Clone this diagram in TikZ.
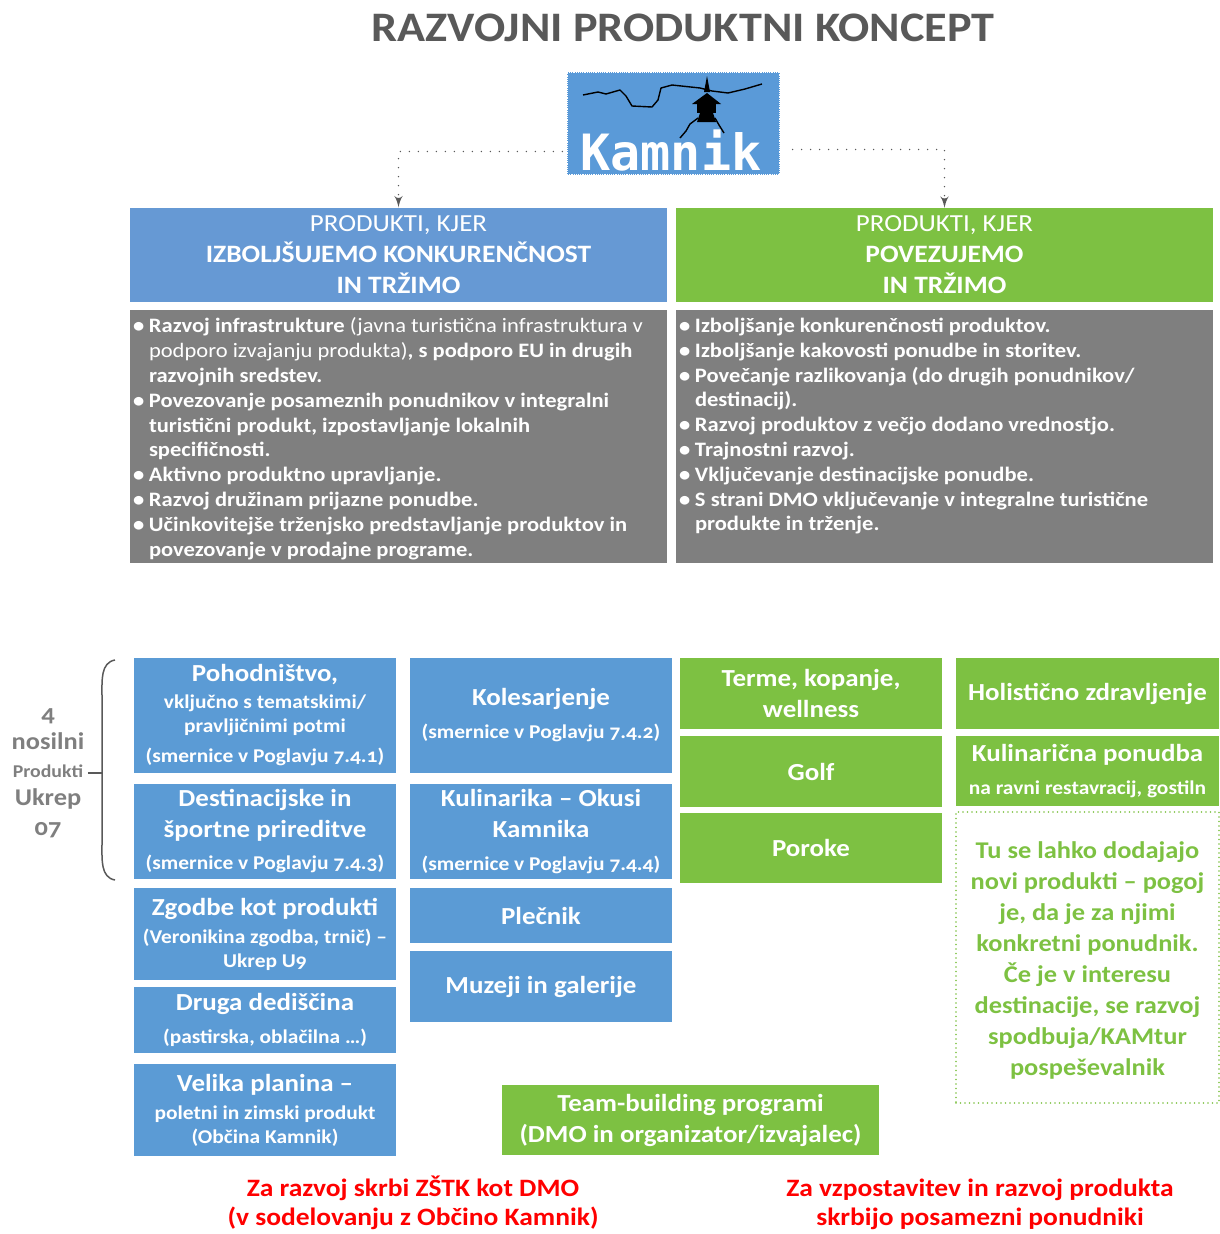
\documentclass[tikz,border=0pt]{standalone}
\usepackage{fontspec}
\setmainfont{Carlito}[Numbers=OldStyle, FakeStretch=1.1]
\newfontfamily\logofont{DejaVu Sans Mono}
\usepackage{tikz}
\usetikzlibrary{arrows}
\usetikzlibrary{decorations.markings}
\tikzset{tip/.style = {decoration={markings,
                                   mark=at position 1 with {\arrow[scale=1.5]{latex'}}},
                       postaction={decorate}}}
\tikzset{prod/.style = {fill=mblue, text=white, align=center, inner sep=0pt,
                        minimum width=262pt, minimum height=#1,
                        font=\bfseries\fontsize{19.5}{24}\selectfont}}
\tikzset{grn/.style = {prod=#1, fill=mgreen}}
\tikzset{hdr/.style = {text=white, align=center, inner sep=0pt, minimum width=537pt,
                       minimum height=94pt, font=\bfseries\fontsize{25}{31}\selectfont}}
\tikzset{gbox/.style = {fill=mgray, inner sep=0pt, minimum width=537pt, minimum height=253pt}}
\tikzset{gtxt/.style = {text=white, align=left, inner sep=0pt,
                        font=\bfseries\fontsize{20.5}{24.8}\selectfont}}
\tikzset{dots/.style = {tgray, line width=1.6pt, line cap=round, dash pattern=on 0pt off 9pt}}
\tikzset{note/.style = {text=red, align=center, font=\bfseries\fontsize{25}{29}\selectfont}}
\definecolor{mblue}{HTML}{5B9BD5}
\definecolor{hblue}{HTML}{6699D4}
\definecolor{lblue}{HTML}{5A9AD8}
\definecolor{mgreen}{HTML}{7DC142}
\definecolor{mgray}{HTML}{7F7F7F}
\definecolor{tgray}{HTML}{595959}
\newcommand\pname[1]{{\fontsize{24.5}{31}\selectfont #1}}
\newcommand\bl{\makebox[16pt][l]{\textbullet}}
\newcommand\ind{\hspace*{16pt}}

\begin{document}
\begin{tikzpicture}[x=1pt, y=-1pt]
      \useasboundingbox (0,0) rectangle (1220,1234);

      \node [text=tgray, font=\bfseries\fontsize{42}{42}\selectfont] (title) at (683,28) {RAZVOJNI PRODUKTNI KONCEPT};

      \node [fill=lblue, draw=white, densely dotted, line width=1.2pt, inner sep=0pt,
             minimum width=213pt, minimum height=103pt] (logo) at (673.5,123.5) {};
      \draw [line width=1.4pt, line join=round] (583,95) -- (598,92) -- (606,94) -- (620,90) -- (626,96) -- (632,106)
            -- (652,107) -- (658,100) -- (661,88) -- (672,85) -- (700,88) -- (712,91) -- (728,93) -- (745,89) -- (762,84);
      \fill (707,76) -- (710,92) -- (704,92) -- cycle;
      \fill (692,104) -- (707,93) -- (721,104) -- cycle;
      \fill (697,104) rectangle (716,113);
      \fill (700,113) -- (713,113) -- (716,122) -- (697,122) -- cycle;
      \draw [line width=1.4pt] (698,118) -- (690,124) -- (686,131) -- (680,138);
      \draw [line width=1.4pt] (715,118) -- (719,125) -- (724,133);
      \node [text=white, font=\logofont\bfseries\fontsize{50}{50}\selectfont] (kamnik) at (671,151) {Kamnik};

      \node [hdr, fill=hblue] (hdrL) at (398.5,254.5) {{\mdseries\fontsize{24.5}{31}\selectfont PRODUKTI, KJER}\\ IZBOLJŠUJEMO KONKURENČNOST\\ IN TRŽIMO};
      \node [hdr, fill=mgreen] (hdrR) at (944.5,255) {{\mdseries\fontsize{24.5}{31}\selectfont PRODUKTI, KJER}\\ POVEZUJEMO\\ IN TRŽIMO};

      \draw [dots, tip] ([xshift=-4pt, yshift=-28pt]logo.west) -| (hdrL.north);
      \draw [dots, tip] ([xshift=12pt, yshift=-26pt]logo.east) -| (hdrR.north);

      \node [gbox] (gL) at (398.5,436.5) {};
      \node [gbox] (gR) at (944.5,436.5) {};
      \node [gtxt, anchor=north west] (tL) at ([xshift=3pt, yshift=-8pt]gL.north west)
            {\bl Razvoj infrastrukture \textmd{(javna turistična infrastruktura v}\\
             \ind\textmd{podporo izvajanju produkta)}, s podporo EU in drugih\\
             \ind razvojnih sredstev.\\
             \bl Povezovanje posameznih ponudnikov v integralni\\
             \ind turistični produkt, izpostavljanje lokalnih\\
             \ind specifičnosti.\\
             \bl Aktivno produktno upravljanje.\\
             \bl Razvoj družinam prijazne ponudbe.\\
             \bl Učinkovitejše trženjsko predstavljanje produktov in\\
             \ind povezovanje v prodajne programe.};
      \node [gtxt, anchor=north west] (tR) at ([xshift=3pt, yshift=-8pt]gR.north west)
            {\bl Izboljšanje konkurenčnosti produktov.\\
             \bl Izboljšanje kakovosti ponudbe in storitev.\\
             \bl Povečanje razlikovanja (do drugih ponudnikov/\\
             \ind destinacij).\\
             \bl Razvoj produktov z večjo dodano vrednostjo.\\
             \bl Trajnostni razvoj.\\
             \bl Vključevanje destinacijske ponudbe.\\
             \bl S strani DMO vključevanje v integralne turistične\\
             \ind produkte in trženje.};

      \node [text=mgray, align=center, font=\bfseries\fontsize{24}{28}\selectfont] (nosilni) at (48,773)
            {4\\ nosilni\\ {\fontsize{18}{28}\selectfont Produkti}\\ Ukrep\\[2pt] 07};
      \coordinate (brc) at (102,770);
      \draw [tgray, line width=1.5pt] (115,660) to [out=190, in=90] (102,695) -- (102,845) to [out=-90, in=170] (115,880);
      \draw [tgray, line width=1.5pt] (nosilni.east) -- (nosilni.east -| brc);

      \node [prod=115pt] (pohod) at (265,715.5) {\pname{Pohodništvo,}\\[3pt] vključno s tematskimi/\\ pravljičnimi potmi\\[6pt] (smernice v Poglavju 7.4.1)};
      \node [prod=95pt] (destin) at (265,831.5) {\pname{Destinacijske in}\\[7pt] \pname{športne prireditve}\\[8pt] (smernice v Poglavju 7.4.3)};
      \node [prod=92pt] (zgodbe) at (265,934) {\pname{Zgodbe kot produkti}\\[4pt] (Veronikina zgodba, trnič) –\\ Ukrep U9};
      \node [prod=66pt] (druga) at (265,1020) {\pname{Druga dediščina}\\[9pt] (pastirska, oblačilna …)};
      \node [prod=92pt] (velika) at (265,1110) {\pname{Velika planina –}\\[4pt] poletni in zimski produkt\\ (Občina Kamnik)};

      \node [prod=115pt] (kolesar) at (541,715.5) {\pname{Kolesarjenje}\\[9pt] (smernice v Poglavju 7.4.2)};
      \node [prod=95pt] (kulin) at (541,831.5) {\pname{Kulinarika – Okusi}\\[7pt] \pname{Kamnika}\\[9pt] (smernice v Poglavju 7.4.4)};
      \node [prod=55pt] (plecnik) at (541,915.5) {\pname{Plečnik}};
      \node [prod=71pt] (muzeji) at (541,986.5) {\pname{Muzeji in galerije}};

      \node [grn=71pt] (terme) at (811,693.5) {\pname{Terme, kopanje,}\\[7pt] \pname{wellness}};
      \node [grn=71pt] (golf) at (811,771.5) {\pname{Golf}};
      \node [grn=70pt] (poroke) at (811,848) {\pname{Poroke}};

      \node [grn=71pt, minimum width=263pt] (holist) at (1087.5,693.5) {\pname{Holistično zdravljenje}};
      \node [grn=70pt, minimum width=263pt] (kulpon) at (1087.5,771) {\pname{Kulinarična ponudba}\\[9pt] na ravni restavracij, gostiln};
      \node [draw=mgreen, line width=1.6pt, line cap=round, dash pattern=on 0pt off 4.5pt,
             inner sep=0pt, minimum width=263pt, minimum height=291pt] (novi) at (1087.5,957.5) {};
      \node [text=mgreen, align=center, font=\bfseries\fontsize{24}{31}\selectfont] (novitxt) at (1087.5,960.5)
            {Tu se lahko dodajajo\\ novi produkti – pogoj\\ je, da je za njimi\\ konkretni ponudnik.\\ Če je v interesu\\ destinacije, se razvoj\\ spodbuja/KAMtur\\ pospeševalnik};

      \node [grn=70pt, minimum width=377pt] (team) at (690.5,1120) {\pname{Team-building programi}\\[7pt] \pname{(DMO in organizator/izvajalec)}};

      \node [note] (dmo) at (413,1203) {Za razvoj skrbi ZŠTK kot DMO\\ (v sodelovanju z Občino Kamnik)};
      \node [note] (ponud) at (980,1204) {Za vzpostavitev in razvoj produkta\\ skrbijo posamezni ponudniki};
    \end{tikzpicture}
\end{document}
